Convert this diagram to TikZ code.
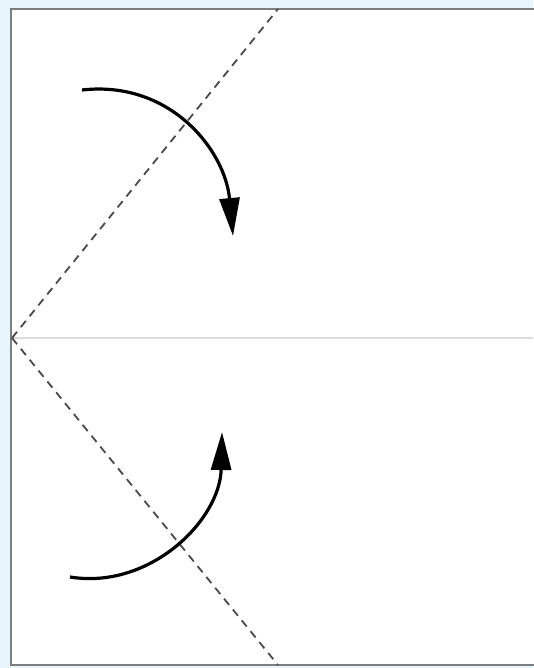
\documentclass[tikz,border=0pt]{standalone}
\usetikzlibrary{arrows.meta}
\definecolor{bgblue}{HTML}{E6F6FC}
\definecolor{frame}{HTML}{7E7E7E}
\definecolor{crease}{HTML}{DCDCDC}
\definecolor{dashc}{HTML}{4A4A4A}
\tikzset{
  foldline/.style={dashc, line width=1.8pt, dash pattern=on 8pt off 6pt},
  foldarrow/.style={black, line width=3.2pt, -{Triangle[length=38pt,width=20pt]}},
}
\begin{document}
\begin{tikzpicture}[x=1pt,y=-1pt]
\fill[bgblue] (0,0) rectangle (533,668);
\useasboundingbox (0,0) rectangle (533,668);
\fill[white] (11,9) rectangle (540,665);
\draw[frame, line width=2.4pt] (540,9) -- (11,9) -- (11,665) -- (540,665);
\coordinate (L) at (12,338);
\coordinate (R) at (533,338);
\coordinate (T) at (278,9);
\coordinate (B) at (278,665);
\draw[crease, line width=1.5pt] (L) -- (R);
\draw[foldline] (L) -- (T);
\draw[foldline] (L) -- (B);
\coordinate (a1) at (82,90);
\coordinate (a2) at (233,236);
\draw[foldarrow] (a1) .. controls (170,80) and (225,150) .. (a2);
\coordinate (b1) at (70,577);
\coordinate (b2) at (222,432);
\draw[foldarrow] (b1) .. controls (150,590) and (220,520) .. (b2);
\end{tikzpicture}
\end{document}
